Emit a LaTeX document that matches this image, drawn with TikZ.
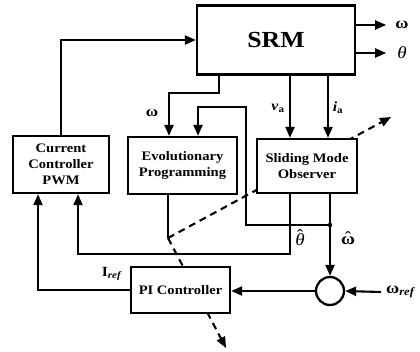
\documentclass[tikz,border=0pt]{standalone}
\usepackage{fontspec}
\setmainfont[FakeStretch=1.12]{Liberation Serif}
\usetikzlibrary{arrows.meta,backgrounds}
\newcommand{\hatover}[2]{\ooalign{#1\cr\hidewidth\raisebox{#2}{\upshape\mdseries ˆ}\hidewidth\cr}}
\begin{document}
\begin{tikzpicture}[x=1pt,y=-1pt,
 box/.style={draw, line width=2.3pt, fill=white, align=center, font=\fontsize{13}{16}\selectfont\bfseries, inner sep=0pt},
 conn/.style={line width=2.1pt, -{Triangle[length=11pt,width=9pt]}},
 plain/.style={line width=2.1pt},
 tune/.style={line width=2.1pt, dash pattern=on 7pt off 5pt, -{Triangle[length=11pt,width=9pt]}},
 lbl/.style={font=\fontsize{14}{16}\selectfont\bfseries, inner sep=0pt}]
\useasboundingbox (0,0) rectangle (420,351);

% blocks
\node[box, minimum width=158pt, minimum height=69pt, font=\fontsize{23}{26}\selectfont\bfseries] (srm) at (276,40) {SRM};
\node[box, minimum width=96pt, minimum height=57pt] (cc) at (61,164.5) {Current\\Controller\\PWM};
\node[box, minimum width=109pt, minimum height=57pt] (ep) at (182.5,165.5) {Evolutionary\\Programming};
\node[box, minimum width=100pt, minimum height=54pt] (smo) at (307,166) {Sliding Mode\\Observer};
\node[box, minimum width=99pt, minimum height=46pt] (pi) at (180.5,290) {PI Controller};
\node[draw, circle, line width=2.3pt, minimum size=28pt, inner sep=0pt, fill=white] (sum) at (330,291) {};

% coordinates
\coordinate (epout) at (168,238);
\coordinate (tA) at (391,117);
\coordinate (tB) at (226,348);
\coordinate (jn) at (330,225);

% tuning (dashed) arrows behind the blocks
\begin{pgfonlayer}{background}
\draw[tune] (epout) -- (tA);
\draw[tune] (epout) -- (tB);
\end{pgfonlayer}

% SRM outputs
\draw[conn] ([yshift=15pt]srm.east) -- ++(30,0) coordinate (o1);
\node[lbl, anchor=west, font=\fontsize{16}{18}\selectfont\bfseries] (lo1) at ([xshift=9pt]o1) {ω};
\draw[conn] ([yshift=-13pt]srm.east) -- ++(30,0) coordinate (o2);
\node[lbl, anchor=west, font=\fontsize{17}{18}\selectfont\itshape] (lo2) at ([xshift=11pt]o2) {θ};

% current controller to SRM
\draw[conn] (cc.north) |- (srm.west);

% omega to EP
\draw[conn] ([xshift=-57pt]srm.south) -- ++(0,17) -| ([xshift=-13.5pt]ep.north);
\node[lbl, font=\fontsize{15}{16}\selectfont\bfseries] (lw) at (152,113) {ω};

% omega-hat feedback to EP
\draw[conn] (jn) -| (246,107) -| ([xshift=15.5pt]ep.north);

% va, ia
\draw[conn] ([xshift=14pt]srm.south) -- ([xshift=14pt]srm.south |- smo.north);
\node[lbl] (lva) at (278,108) {\textit{v}\textsubscript{a}};
\draw[conn] ([xshift=52pt]srm.south) -- ([xshift=52pt]srm.south |- smo.north);
\node[lbl] (lia) at (338,108) {\textit{i}\textsubscript{a}};

% omega-hat to summing junction
\draw[conn] ([xshift=23pt]smo.south) -- (sum.north);
\fill (jn) circle (2.2pt);
\node[lbl, font=\fontsize{17}{20}\selectfont\bfseries] (lwh) at (348,240) {\hatover{ω}{0.05em}};

% theta-hat to current controller
\draw[conn] ([xshift=-17pt]smo.south) -- ++(0,60) -| ([xshift=17pt]cc.south);
\node[lbl, font=\fontsize{17}{20}\selectfont\itshape] (lth) at (300,240) {\hatover{θ}{0.28em}};

% omega_ref
\node[lbl, anchor=west, font=\fontsize{16}{18}\selectfont\bfseries] (wref) at (386,292) {ω\textsubscript{\textit{ref}}};
\draw[conn] ([xshift=-5pt]wref.west) -- (sum.east);

% sum to PI
\draw[conn] (sum.west) -- (pi.east |- sum.west);

% PI to current controller
\draw[conn] (pi.west) -| ([xshift=-23pt]cc.south);
\node[lbl, font=\fontsize{14}{16}\selectfont\bfseries] (liref) at (112,274) {I\textsubscript{\textit{ref}}};

% EP output
\draw[plain] (ep.south -| epout) -- (epout);
\end{tikzpicture}
\end{document}
